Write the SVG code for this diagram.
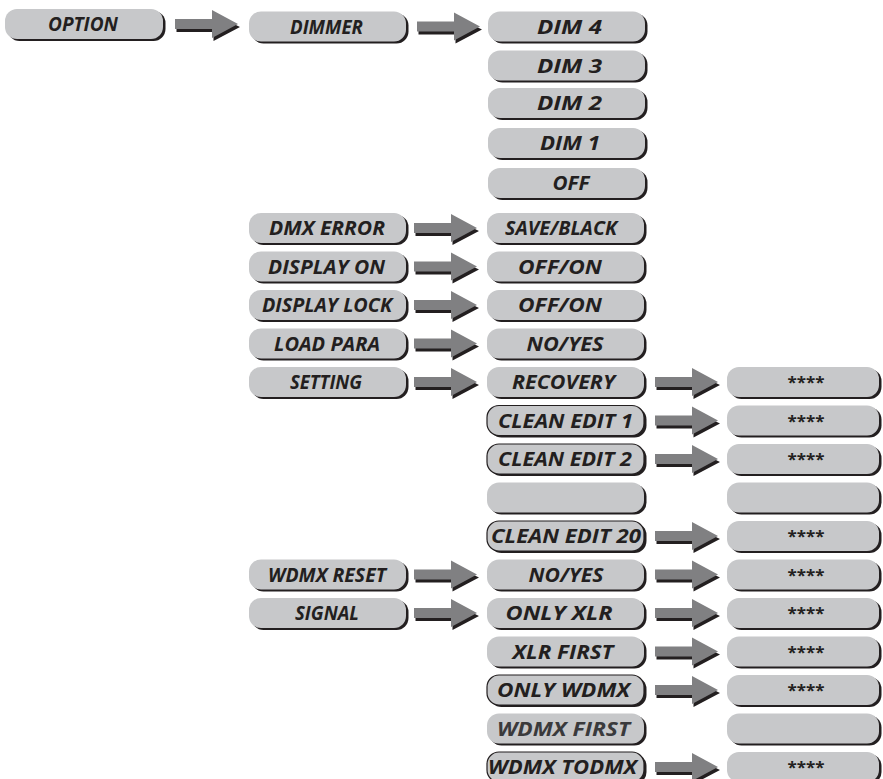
<svg xmlns="http://www.w3.org/2000/svg" xmlns:xlink="http://www.w3.org/1999/xlink" width="883" height="779" viewBox="0 0 883 779">
<style>
.sh{fill:#231f20}
.pl{fill:#c7c8ca}
.ol{stroke:#231f20;stroke-width:1.2}
.t{font-family:"Open Sans","Liberation Sans",sans-serif;font-weight:700;font-style:italic;font-size:20px;fill:#231f20;text-anchor:middle}
.s{font-family:"Open Sans","Liberation Sans",sans-serif;font-weight:700;font-size:16px;fill:#231f20;text-anchor:middle}
.ah{fill:#808082}
</style>
<defs>
<g id="arr">
<path class="sh" d="M1.5,8 L1.5,2 L38.5,2 L38.5,-10 L65,3 L38.5,17 L38.5,8 Z"/>
<path class="ah" d="M0,5 L0,-5 L37,-5 L37,-14 L63,0 L37,14 L37,5 Z"/>
</g>
</defs>
<g id="connectors">
<use xlink:href="#arr" x="175" y="24"/>
<use xlink:href="#arr" x="417" y="26.5"/>
<use xlink:href="#arr" x="414" y="228"/>
<use xlink:href="#arr" x="414" y="266.5"/>
<use xlink:href="#arr" x="414" y="305"/>
<use xlink:href="#arr" x="414" y="343.5"/>
<use xlink:href="#arr" x="414" y="382"/>
<use xlink:href="#arr" x="414" y="574.5"/>
<use xlink:href="#arr" x="414" y="613"/>
<use xlink:href="#arr" x="655" y="382"/>
<use xlink:href="#arr" x="655" y="420.5"/>
<use xlink:href="#arr" x="655" y="459"/>
<use xlink:href="#arr" x="655" y="536"/>
<use xlink:href="#arr" x="655" y="574.5"/>
<use xlink:href="#arr" x="655" y="613"/>
<use xlink:href="#arr" x="655" y="651.5"/>
<use xlink:href="#arr" x="655" y="690"/>
<use xlink:href="#arr" x="655" y="767"/>
</g>
<!-- column 1 -->
<g id="option"><rect class="sh" x="7.5" y="11" width="158" height="30" rx="12"/><rect class="pl" x="5" y="9" width="158" height="30" rx="12"/><text class="t" x="83" y="31" textLength="70" lengthAdjust="spacingAndGlyphs">OPTION</text></g>
<!-- column 2 -->
<g id="dimmer"><rect class="sh" x="251.5" y="13.5" width="157" height="30" rx="12"/><rect class="pl" x="249" y="11.5" width="157" height="30" rx="12"/><text class="t" x="326.5" y="33.5" textLength="73" lengthAdjust="spacingAndGlyphs">DIMMER</text></g>
<g id="dmx-error"><rect class="sh" x="251.5" y="215" width="157" height="30" rx="12"/><rect class="pl" x="249" y="213" width="157" height="30" rx="12"/><text class="t" x="327" y="235" textLength="116" lengthAdjust="spacingAndGlyphs">DMX ERROR</text></g>
<g id="display-on"><rect class="sh" x="251.5" y="253.5" width="157" height="30" rx="12"/><rect class="pl" x="249" y="251.5" width="157" height="30" rx="12"/><text class="t" x="326.5" y="273.5" textLength="117" lengthAdjust="spacingAndGlyphs">DISPLAY ON</text></g>
<g id="display-lock"><rect class="sh" x="251.5" y="292" width="157" height="30" rx="12"/><rect class="pl" x="249" y="290" width="157" height="30" rx="12"/><text class="t" x="327" y="312" textLength="130" lengthAdjust="spacingAndGlyphs">DISPLAY LOCK</text></g>
<g id="load-para"><rect class="sh" x="251.5" y="330.5" width="157" height="30" rx="12"/><rect class="pl" x="249" y="328.5" width="157" height="30" rx="12"/><text class="t" x="327" y="350.5" textLength="106" lengthAdjust="spacingAndGlyphs">LOAD PARA</text></g>
<g id="setting"><rect class="sh" x="251.5" y="369" width="157" height="30" rx="12"/><rect class="pl" x="249" y="367" width="157" height="30" rx="12"/><text class="t" x="326" y="389" textLength="72" lengthAdjust="spacingAndGlyphs">SETTING</text></g>
<g id="wdmx-reset"><rect class="sh" x="251.5" y="561.5" width="157" height="30" rx="12"/><rect class="pl" x="249" y="559.5" width="157" height="30" rx="12"/><text class="t" x="327" y="581.5" textLength="118" lengthAdjust="spacingAndGlyphs">WDMX RESET</text></g>
<g id="signal"><rect class="sh" x="251.5" y="600" width="157" height="30" rx="12"/><rect class="pl" x="249" y="598" width="157" height="30" rx="12"/><text class="t" x="327" y="620" textLength="64" lengthAdjust="spacingAndGlyphs">SIGNAL</text></g>
<!-- column 3 -->
<g id="dim4"><rect class="sh" x="490.5" y="13.5" width="157" height="30" rx="12"/><rect class="pl" x="488" y="11.5" width="157" height="30" rx="12"/><text class="t" x="569.5" y="33.5" textLength="65" lengthAdjust="spacingAndGlyphs">DIM  4</text></g>
<g id="dim3"><rect class="sh" x="490.5" y="52.5" width="157" height="30" rx="12"/><rect class="pl" x="488" y="50.5" width="157" height="30" rx="12"/><text class="t" x="569.5" y="72.5" textLength="65" lengthAdjust="spacingAndGlyphs">DIM  3</text></g>
<g id="dim2"><rect class="sh" x="490.5" y="90" width="157" height="30" rx="12"/><rect class="pl" x="488" y="88" width="157" height="30" rx="12"/><text class="t" x="569.5" y="110" textLength="65" lengthAdjust="spacingAndGlyphs">DIM  2</text></g>
<g id="dim1"><rect class="sh" x="490.5" y="130" width="157" height="30" rx="12"/><rect class="pl" x="488" y="128" width="157" height="30" rx="12"/><text class="t" x="570" y="150" textLength="60" lengthAdjust="spacingAndGlyphs">DIM  1</text></g>
<g id="dim-off"><rect class="sh" x="490.5" y="170" width="157" height="30" rx="12"/><rect class="pl" x="488" y="168" width="157" height="30" rx="12"/><text class="t" x="571" y="190" textLength="37" lengthAdjust="spacingAndGlyphs">OFF</text></g>
<g id="save-black"><rect class="sh" x="489.5" y="215" width="157" height="30" rx="12"/><rect class="pl" x="487" y="213" width="157" height="30" rx="12"/><text class="t" x="561" y="235" textLength="112" lengthAdjust="spacingAndGlyphs">SAVE/BLACK</text></g>
<g id="display-offon"><rect class="sh" x="489.5" y="253.5" width="157" height="30" rx="12"/><rect class="pl" x="487" y="251.5" width="157" height="30" rx="12"/><text class="t" x="560" y="273.5" textLength="84" lengthAdjust="spacingAndGlyphs">OFF/ON</text></g>
<g id="lock-offon"><rect class="sh" x="489.5" y="292" width="157" height="30" rx="12"/><rect class="pl" x="487" y="290" width="157" height="30" rx="12"/><text class="t" x="560" y="312" textLength="84" lengthAdjust="spacingAndGlyphs">OFF/ON</text></g>
<g id="load-noyes"><rect class="sh" x="489.5" y="330.5" width="157" height="30" rx="12"/><rect class="pl" x="487" y="328.5" width="157" height="30" rx="12"/><text class="t" x="565" y="350.5" textLength="77" lengthAdjust="spacingAndGlyphs">NO/YES</text></g>
<g id="recovery"><rect class="sh" x="489.5" y="369" width="157" height="30" rx="12"/><rect class="pl" x="487" y="367" width="157" height="30" rx="12"/><text class="t" x="563.5" y="389" textLength="103" lengthAdjust="spacingAndGlyphs">RECOVERY</text></g>
<g id="clean1"><rect class="sh" x="489.5" y="407.5" width="157" height="30" rx="12"/><rect class="pl ol" x="487" y="405.5" width="157" height="30" rx="12"/><text class="t" x="565.5" y="427.5" textLength="135" lengthAdjust="spacingAndGlyphs">CLEAN EDIT 1</text></g>
<g id="clean2"><rect class="sh" x="489.5" y="446" width="157" height="30" rx="12"/><rect class="pl ol" x="487" y="444" width="157" height="30" rx="12"/><text class="t" x="565" y="466" textLength="134" lengthAdjust="spacingAndGlyphs">CLEAN EDIT 2</text></g>
<g id="blank3"><rect class="sh" x="489.5" y="484.5" width="157" height="30" rx="12"/><rect class="pl" x="487" y="482.5" width="157" height="30" rx="12"/></g>
<g id="clean20"><rect class="sh" x="489.5" y="523" width="157" height="30" rx="12"/><rect class="pl ol" x="487" y="521" width="157" height="30" rx="12"/><text class="t" x="566" y="543" textLength="150" lengthAdjust="spacingAndGlyphs">CLEAN EDIT 20</text></g>
<g id="wdmx-noyes"><rect class="sh" x="489.5" y="561.5" width="157" height="30" rx="12"/><rect class="pl" x="487" y="559.5" width="157" height="30" rx="12"/><text class="t" x="566" y="581.5" textLength="75" lengthAdjust="spacingAndGlyphs">NO/YES</text></g>
<g id="only-xlr"><rect class="sh" x="489.5" y="600" width="157" height="30" rx="12"/><rect class="pl" x="487" y="598" width="157" height="30" rx="12"/><text class="t" x="559" y="620" textLength="107" lengthAdjust="spacingAndGlyphs">ONLY XLR</text></g>
<g id="xlr-first"><rect class="sh" x="489.5" y="638.5" width="157" height="30" rx="12"/><rect class="pl" x="487" y="636.5" width="157" height="30" rx="12"/><text class="t" x="563" y="658.5" textLength="101" lengthAdjust="spacingAndGlyphs">XLR  FIRST</text></g>
<g id="only-wdmx"><rect class="sh" x="489.5" y="677" width="157" height="30" rx="12"/><rect class="pl ol" x="487" y="675" width="157" height="30" rx="12"/><text class="t" x="563.5" y="697" textLength="133" lengthAdjust="spacingAndGlyphs">ONLY  WDMX</text></g>
<g id="wdmx-first"><rect class="sh" x="489.5" y="715.5" width="157" height="30" rx="12"/><rect class="pl" x="487" y="713.5" width="157" height="30" rx="12"/><text class="t" x="563.5" y="735.5" textLength="133" lengthAdjust="spacingAndGlyphs" style="fill:#3a3a3c">WDMX  FIRST</text></g>
<g id="wdmx-todmx"><rect class="sh" x="489.5" y="754" width="157" height="30" rx="12"/><rect class="pl ol" x="487" y="752" width="157" height="30" rx="12"/><text class="t" x="562.5" y="774" textLength="149" lengthAdjust="spacingAndGlyphs">WDMX TODMX</text></g>
<!-- column 4 -->
<g id="v-recovery"><rect class="sh" x="729.5" y="369" width="152" height="30" rx="12"/><rect class="pl" x="727" y="367" width="152" height="30" rx="12"/><text class="s" x="806" y="388" textLength="37" lengthAdjust="spacingAndGlyphs">****</text></g>
<g id="v-clean1"><rect class="sh" x="729.5" y="407.5" width="152" height="30" rx="12"/><rect class="pl" x="727" y="405.5" width="152" height="30" rx="12"/><text class="s" x="806" y="426.5" textLength="37" lengthAdjust="spacingAndGlyphs">****</text></g>
<g id="v-clean2"><rect class="sh" x="729.5" y="446" width="152" height="30" rx="12"/><rect class="pl" x="727" y="444" width="152" height="30" rx="12"/><text class="s" x="806" y="465" textLength="37" lengthAdjust="spacingAndGlyphs">****</text></g>
<g id="v-blank3"><rect class="sh" x="729.5" y="484.5" width="152" height="30" rx="12"/><rect class="pl" x="727" y="482.5" width="152" height="30" rx="12"/></g>
<g id="v-clean20"><rect class="sh" x="729.5" y="523" width="152" height="30" rx="12"/><rect class="pl" x="727" y="521" width="152" height="30" rx="12"/><text class="s" x="806" y="542" textLength="37" lengthAdjust="spacingAndGlyphs">****</text></g>
<g id="v-noyes"><rect class="sh" x="729.5" y="561.5" width="152" height="30" rx="12"/><rect class="pl" x="727" y="559.5" width="152" height="30" rx="12"/><text class="s" x="806" y="580.5" textLength="37" lengthAdjust="spacingAndGlyphs">****</text></g>
<g id="v-onlyxlr"><rect class="sh" x="729.5" y="600" width="152" height="30" rx="12"/><rect class="pl" x="727" y="598" width="152" height="30" rx="12"/><text class="s" x="806" y="619" textLength="37" lengthAdjust="spacingAndGlyphs">****</text></g>
<g id="v-xlrfirst"><rect class="sh" x="729.5" y="638.5" width="152" height="30" rx="12"/><rect class="pl" x="727" y="636.5" width="152" height="30" rx="12"/><text class="s" x="806" y="657.5" textLength="37" lengthAdjust="spacingAndGlyphs">****</text></g>
<g id="v-onlywdmx"><rect class="sh" x="729.5" y="677" width="152" height="30" rx="12"/><rect class="pl" x="727" y="675" width="152" height="30" rx="12"/><text class="s" x="806" y="696" textLength="37" lengthAdjust="spacingAndGlyphs">****</text></g>
<g id="v-wdmxfirst"><rect class="sh" x="729.5" y="715.5" width="152" height="30" rx="12"/><rect class="pl" x="727" y="713.5" width="152" height="30" rx="12"/></g>
<g id="v-todmx"><rect class="sh" x="729.5" y="754" width="152" height="30" rx="12"/><rect class="pl" x="727" y="752" width="152" height="30" rx="12"/><text class="s" x="806" y="773" textLength="37" lengthAdjust="spacingAndGlyphs">****</text></g>
</svg>
